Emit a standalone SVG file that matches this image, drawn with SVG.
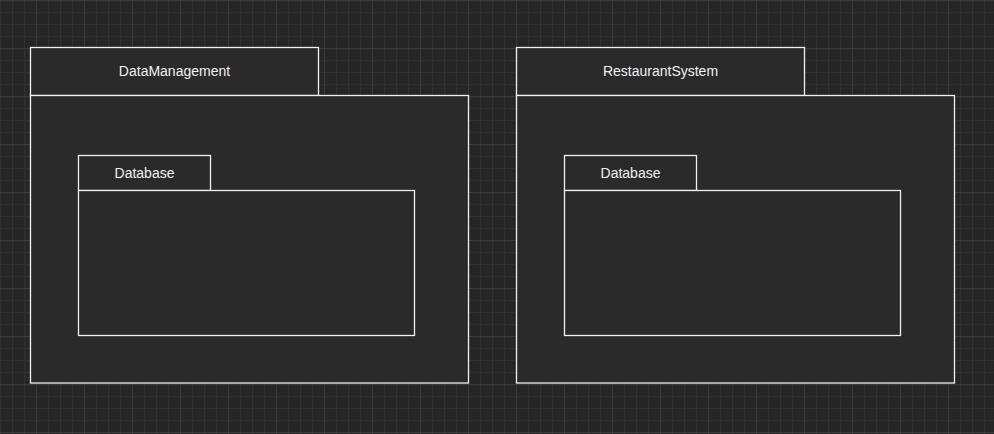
<svg xmlns="http://www.w3.org/2000/svg" width="994" height="434" viewBox="0 0 994 434">
<defs>
<pattern id="minor" width="12" height="12" patternUnits="userSpaceOnUse" x="0" y="0">
<path d="M0 0.5H12M0.5 0V12" stroke="#323232" stroke-width="1" fill="none"/>
</pattern>
<pattern id="major" width="48" height="48" patternUnits="userSpaceOnUse" x="36" y="0">
<path d="M0 0H48M0 0V48" stroke="#464646" stroke-width="1" fill="none"/>
</pattern>
</defs>
<style>
.box{fill:#2a2a2a;stroke:#f0f0f0;stroke-width:1.3}
.lbl{font-family:"Liberation Sans",Arial,sans-serif;font-size:14px;fill:#f0f0f0;text-anchor:middle}
</style>
<rect width="994" height="434" fill="#262626"/>
<rect width="994" height="434" fill="url(#minor)"/>
<rect width="994" height="434" fill="url(#major)"/>
<g id="DataManagement">
<rect class="box" x="30.5" y="47.5" width="288" height="48"/>
<rect class="box" x="30.5" y="95.5" width="438" height="287.5"/>
<text class="lbl" x="174.5" y="76">DataManagement</text>
</g>
<g id="Database1">
<rect class="box" x="78.5" y="155.5" width="132" height="35"/>
<rect class="box" x="78.5" y="190.5" width="336" height="145"/>
<text class="lbl" x="144.5" y="178">Database</text>
</g>
<g id="RestaurantSystem">
<rect class="box" x="516.5" y="47.5" width="288" height="48"/>
<rect class="box" x="516.5" y="95.5" width="438" height="287.5"/>
<text class="lbl" x="660.5" y="76">RestaurantSystem</text>
</g>
<g id="Database2">
<rect class="box" x="564.5" y="155.5" width="132" height="35"/>
<rect class="box" x="564.5" y="190.5" width="336" height="145"/>
<text class="lbl" x="630.5" y="178">Database</text>
</g>
<g id="connectors"/>
</svg>
